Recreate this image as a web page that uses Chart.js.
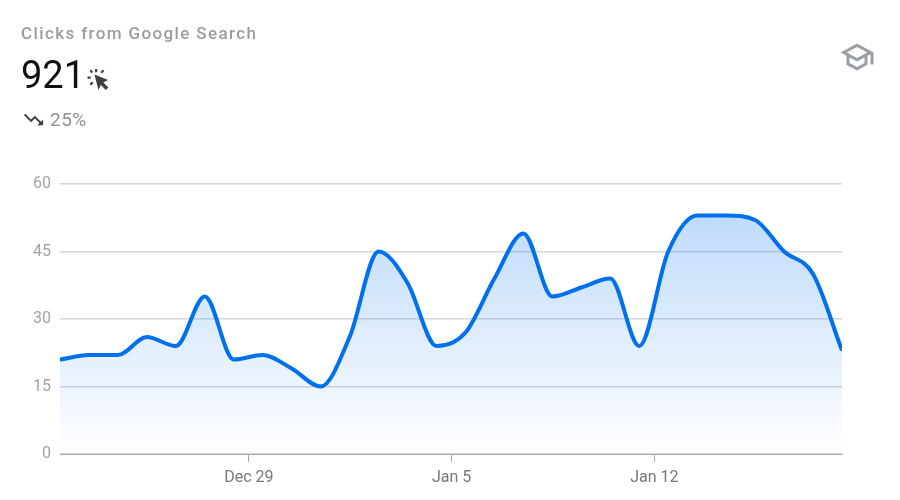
<!DOCTYPE html>
<html>
<head>
<meta charset="utf-8">
<title>Clicks from Google Search</title>
<script src="https://cdn.jsdelivr.net/npm/chart.js@4"></script>
<style>
  html, body { margin: 0; padding: 0; background: #fff; font-family: Roboto, sans-serif; }
  #wrap { position: relative; width: 900px; height: 500px; overflow: hidden; }
  #grafica { position: absolute; left: 0; top: 0; }
  .abs { position: absolute; white-space: nowrap; }
  #titulo { left: 21px; top: 23px; font-size: 17px; line-height: 20px; font-weight: 500; letter-spacing: 1.38px; color: #9b9ba1; }
  #total { left: 21px; top: 52px; font-size: 38px; line-height: 46px; font-weight: 400; color: #111; }
  #delta { left: 50px; top: 108px; font-size: 19px; line-height: 24px; letter-spacing: .5px; color: #8f8f95; }
  svg.abs { display: block; }
</style>
</head>
<body>
<div id="wrap">
  <canvas id="grafica" width="900" height="500"></canvas>
  <div class="abs" id="titulo">Clicks from Google Search</div>
  <div class="abs" id="total">921</div>
  <svg class="abs" style="left:86px;top:67px" width="24" height="24" viewBox="0 0 24 24" fill="#3c4043">
    <path d="M8.500 7.500 L22 13 L17.400 15.600 L22.400 20.600 L19.800 23 L14.900 18 L12.400 23 Z"/>
    <path d="M9 2h2.200v3.200H9zM1.500 9.500h3.200v2.200H1.500zM3.500 4l1.500-1.500 2.100 2.300-1.500 1.500zM14.500 5l2.300-2.500 1.500 1.500-2.300 2.500zM3.500 17l2.500-2.500 1.500 1.500-2.500 2.500z"/>
  </svg>
  <svg class="abs" style="left:22px;top:108px" width="23" height="23" viewBox="0 0 24 24" fill="#3c4043">
    <path d="M16 18l2.290-2.290-4.880-4.880-4 4L2 7.410 3.410 6l6 6 4-4 6.300 6.290L22 12v6z"/>
  </svg>
  <div class="abs" id="delta">25%</div>
  <svg class="abs" style="left:839px;top:39px" width="36" height="36" viewBox="0 0 24 24" fill="#9aa0a6">
    <path d="M12 3L1 9l4 2.180v6L12 21l7-3.820v-6l2-1.090V17h2V9L12 3zm6.820 6L12 12.720 5.180 9 12 5.280 18.820 9zM17 15.990l-5 2.730-5-2.730v-3.720L12 15l5-2.730v3.720z"/>
  </svg>
</div>
<script>
// Clics diarios
var dias = [0, 1, 2, 3, 4, 5, 6, 7, 8, 9, 10, 11, 12, 13, 14, 15, 16, 17, 18, 19, 20, 21, 22, 23, 24, 25, 26, 27];
var clics = [21, 22, 22, 26, 24, 35, 21, 22, 19, 15, 26, 45, 38, 24, 27, 39, 49, 35, 37, 39, 24, 45, 53, 53, 52, 45, 40, 23];
var marcasY = [0, 15, 30, 45, 60];
var marcasX = [6.52, 13.52, 20.52];
var etiquetasX = ['Dec 29', 'Jan 5', 'Jan 12'];

function rellenoGradiente(ctx) {
  var area = ctx.chart.chartArea;
  if (!area) return 'rgba(0,0,0,0)';
  var g = ctx.chart.ctx.createLinearGradient(0, area.top + 30, 0, area.bottom);
  g.addColorStop(0, 'rgba(0,112,235,0.25)');
  g.addColorStop(1, 'rgba(0,112,235,0)');
  return g;
}

new Chart(document.getElementById('grafica').getContext('2d'), {
  type: 'line',
  data: {
    datasets: [{
      data: dias.map(function (d, i) { return { x: d, y: clics[i] }; }),
      borderColor: '#0070ec',
      borderWidth: 4,
      backgroundColor: rellenoGradiente,
      fill: 'origin',
      cubicInterpolationMode: 'monotone',
      pointRadius: 0,
    }],
  },
  options: {
    responsive: false,
    animation: false,
    devicePixelRatio: 1,
    layout: { padding: { top: 184, right: 58, left: 0, bottom: 0 } },
    plugins: { legend: { display: false }, tooltip: { enabled: false } },
    scales: {
      x: {
        type: 'linear',
        min: 0,
        max: 27,
        afterFit: function (s) { s.height = 46; },
        afterBuildTicks: function (s) { s.ticks = marcasX.map(function (v) { return { value: v }; }); },
        border: { display: true, color: '#a9a9a9', width: 1 },
        grid: { drawOnChartArea: false, drawTicks: true, tickLength: 8, color: '#a9a9a9' },
        ticks: {
          color: '#77777c',
          font: { family: 'Roboto', size: 16 },
          padding: 6,
          maxRotation: 0,
          autoSkip: false,
          callback: function (v) { return etiquetasX[marcasX.indexOf(v)]; },
        },
      },
      y: {
        min: 0,
        max: 60,
        afterFit: function (s) { s.width = 60; },
        afterBuildTicks: function (s) { s.ticks = marcasY.map(function (v) { return { value: v }; }); },
        border: { display: false },
        grid: { color: '#d6d6dc', lineWidth: 1.5, drawTicks: false },
        ticks: {
          color: '#a2a2a8',
          font: { family: 'Roboto', size: 16 },
          padding: 9,
        },
      },
    },
  },
});
</script>
</body>
</html>
